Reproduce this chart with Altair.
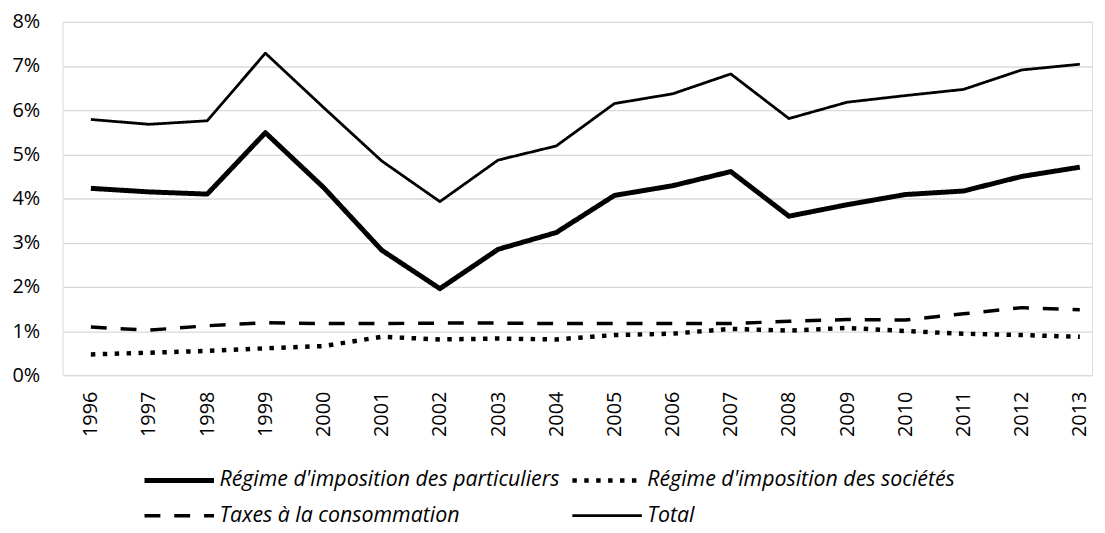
import altair as alt
import pandas as pd

years = list(range(1996, 2014))
particuliers = [4.23, 4.15, 4.10, 5.49, 4.25, 2.83, 1.96, 2.85, 3.23, 4.07, 4.29, 4.61, 3.60, 3.86, 4.09, 4.17, 4.50, 4.71]
societes = [0.47, 0.51, 0.55, 0.61, 0.66, 0.87, 0.81, 0.83, 0.81, 0.91, 0.94, 1.05, 1.01, 1.07, 1.00, 0.94, 0.91, 0.87]
taxes = [1.09, 1.02, 1.12, 1.19, 1.17, 1.17, 1.18, 1.18, 1.17, 1.17, 1.17, 1.17, 1.22, 1.26, 1.25, 1.39, 1.53, 1.48]
total = [5.79, 5.68, 5.76, 7.29, 6.06, 4.85, 3.93, 4.87, 5.19, 6.15, 6.37, 6.82, 5.81, 6.18, 6.33, 6.47, 6.91, 7.04]

# order chosen so the 2-column legend (filled column by column) reads
# row 1: particuliers, sociétés ; row 2: taxes, total
series_names = [
    "Régime d'imposition des particuliers",
    "Taxes à la consommation",
    "Régime d'imposition des sociétés",
    "Total",
]
series_values = [particuliers, taxes, societes, total]
series_dash = [[1, 0], [16, 14], [4.5, 7.5], [1, 0]]
series_width = [5, 3.5, 4.5, 2.8]
y_ticks = [0, 1, 2, 3, 4, 5, 6, 7, 8]

rows = []
for name, vals in zip(series_names, series_values):
    for yr, v in zip(years, vals):
        rows.append({"annee": yr, "valeur": v, "serie": name})
df = pd.DataFrame(rows)

FONT = "Open Sans"

chart = (
    alt.Chart(df)
    .mark_line(strokeJoin="round", strokeCap="butt")
    .encode(
        x=alt.X(
            "annee:Q",
            title=None,
            scale=alt.Scale(domain=[1995.514, 2013.21], nice=False, zero=False),
            axis=alt.Axis(
                values=years,
                format="d",
                labelAngle=-90,
                labelPadding=16,
                ticks=False,
                domain=False,
                grid=False,
                labelFlush=False,
                labelOverlap=False,
                labelFont=FONT,
                labelFontSize=20,
                labelColor="#000000",
            ),
        ),
        y=alt.Y(
            "valeur:Q",
            title=None,
            scale=alt.Scale(domain=[0, 8], nice=False),
            axis=alt.Axis(
                values=y_ticks,
                labelExpr="datum.value + '%'",
                ticks=False,
                domain=False,
                grid=True,
                gridColor="#d9d9d9",
                gridWidth=1.3,
                labelPadding=23,
                minExtent=40,
                maxExtent=40,
                labelFont=FONT,
                labelFontSize=20,
                labelColor="#000000",
            ),
        ),
        color=alt.Color(
            "serie:N",
            title=None,
            scale=alt.Scale(domain=series_names, range=["#000000"] * 4),
            legend=alt.Legend(
                orient="none",
                legendX=80,
                legendY=451,
                columns=2,
                symbolType="stroke",
                symbolSize=4900,
                clipHeight=22,
                rowPadding=13.5,
                columnPadding=10,
                labelOffset=3,
                padding=0,
                labelFont=FONT,
                labelFontSize=21.5,
                labelFontStyle="italic",
                labelColor="#000000",
                labelLimit=600,
                symbolStrokeColor="#000000",
            ),
        ),
        strokeDash=alt.StrokeDash(
            "serie:N",
            title=None,
            scale=alt.Scale(domain=series_names, range=series_dash),
        ),
        strokeWidth=alt.StrokeWidth(
            "serie:N",
            title=None,
            scale=alt.Scale(type="ordinal", domain=series_names, range=series_width),
        ),
    )
    .properties(
        width=1037,
        height=356,
        autosize=alt.AutoSizeParams(type="none"),
        padding={"left": 55, "top": 12, "right": 5, "bottom": 155},
    )
    .configure_view(stroke=None)
    .configure(background="#ffffff")
)

chart.save("out.html", embed_options={"renderer": "svg", "actions": False})
